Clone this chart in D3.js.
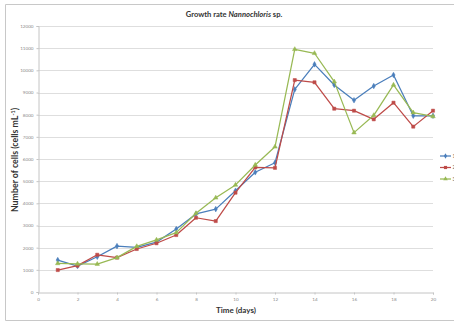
<!DOCTYPE html>
<html>
<head>
<meta charset="utf-8">
<script src="https://cdn.jsdelivr.net/npm/d3@7"></script>
<style>
  html, body { margin: 0; padding: 0; background: #fff; }
  svg { display: block; }
  text { font-family: Lato, "Open Sans", "Liberation Sans", sans-serif; }
</style>
</head>
<body>
<svg id="chart" width="454" height="321"></svg>
<script>
// Culture days
const days = [1, 2, 3, 4, 5, 6, 7, 8, 9, 10, 11, 12, 13, 14, 15, 16, 17, 18, 19, 20];

// Cell counts (cells mL-1) for the three replicate cultures
const replicate1 = [1440, 1170, 1590, 2070, 2010, 2250, 2840, 3520, 3740, 4570, 5400, 5830, 9140, 10270, 9340, 8650, 9290, 9790, 7950, 7950];
const replicate2 = [990, 1190, 1680, 1550, 1940, 2200, 2570, 3350, 3200, 4480, 5620, 5600, 9560, 9460, 8270, 8180, 7790, 8540, 7460, 8180];
const replicate3 = [1290, 1270, 1260, 1550, 2060, 2350, 2680, 3550, 4250, 4830, 5730, 6550, 10950, 10770, 9490, 7190, 7970, 9340, 8090, 7920];

const seriesNames = ["1", "2", "3"];
const seriesColors = ["#4A7EBB", "#BE4B48", "#98B954"];
const seriesShapes = [d3.symbolDiamond, d3.symbolSquare, d3.symbolTriangle];

const xTicks = [0, 2, 4, 6, 8, 10, 12, 14, 16, 18, 20];
const yTicks = [0, 1000, 2000, 3000, 4000, 5000, 6000, 7000, 8000, 9000, 10000, 11000, 12000];

const series = [replicate1, replicate2, replicate3].map((vals, i) => ({
  name: seriesNames[i],
  color: seriesColors[i],
  shape: seriesShapes[i],
  points: days.map((d, j) => ({ day: d, value: vals[j] }))
}));

const markerSize = shape => (shape === d3.symbolSquare ? 10 : 9);

const svg = d3.select("#chart");

// chart frame
svg.append("path")
  .attr("d", "M454,4.5 H5.5 V320.5 H454")
  .attr("fill", "none")
  .attr("stroke", "#c8c8c8")
  .attr("stroke-width", 1);

const plot = { left: 38, right: 433, top: 26, bottom: 292 };

const x = d3.scaleLinear().domain([0, 20]).range([plot.left, plot.right]);
const y = d3.scaleLinear().domain([0, 12000]).range([plot.bottom, plot.top]);

// horizontal gridlines
svg.append("g")
  .selectAll("line")
  .data(yTicks.filter(t => t > 0))
  .join("line")
  .attr("x1", plot.left).attr("x2", plot.right)
  .attr("y1", d => Math.round(y(d)) + 0.5).attr("y2", d => Math.round(y(d)) + 0.5)
  .attr("stroke", "#dedede").attr("stroke-width", 1);

// axes
const xAxis = svg.append("g")
  .attr("transform", `translate(0,${plot.bottom + 0.5})`)
  .call(d3.axisBottom(x).tickValues(xTicks).tickSize(2).tickPadding(3));
const yAxis = svg.append("g")
  .attr("transform", `translate(${plot.left + 0.5},0)`)
  .call(d3.axisLeft(y).tickValues(yTicks).tickSize(2).tickPadding(3).tickFormat(d3.format("d")));

[xAxis, yAxis].forEach(g => {
  g.select(".domain").attr("stroke", "#c4c4c4");
  g.selectAll(".tick line").attr("stroke", "#c4c4c4");
  g.selectAll(".tick text")
    .attr("fill", "#8a8a8a")
    .style("font-size", "4.6px")
    .style("font-family", "Lato, 'Open Sans', sans-serif");
});

// lines and markers
const line = d3.line().x(d => x(d.day)).y(d => y(d.value));

series.forEach(s => {
  svg.append("path")
    .datum(s.points)
    .attr("d", line)
    .attr("fill", "none")
    .attr("stroke", s.color)
    .attr("stroke-width", 1.25)
    .attr("stroke-linejoin", "round");

  svg.append("g")
    .selectAll("path")
    .data(s.points)
    .join("path")
    .attr("transform", d => `translate(${x(d.day)},${y(d.value)})`)
    .attr("d", d3.symbol().type(s.shape).size(markerSize(s.shape)))
    .attr("fill", s.color)
    .attr("stroke", s.color)
    .attr("stroke-width", 0.5);
});

// title
const title = svg.append("text")
  .attr("x", 234).attr("y", 17)
  .attr("text-anchor", "middle")
  .style("font-size", "7.6px")
  .style("font-weight", "bold")
  .attr("fill", "#333");
title.append("tspan").text("Growth rate ");
title.append("tspan").style("font-style", "italic").text("Nannochloris");
title.append("tspan").text(" sp.");

// axis titles
svg.append("text")
  .attr("x", 236).attr("y", 313)
  .attr("text-anchor", "middle")
  .style("font-size", "8px")
  .style("font-weight", "bold")
  .attr("fill", "#333")
  .text("Time (days)");

const yTitle = svg.append("text")
  .attr("transform", "translate(18,160) rotate(-90)")
  .attr("text-anchor", "middle")
  .style("font-size", "8.8px")
  .style("font-weight", "bold")
  .attr("fill", "#333");
yTitle.append("tspan").text("Number of cells (cells mL");
yTitle.append("tspan").attr("baseline-shift", "super").style("font-size", "5.5px").text("-1");
yTitle.append("tspan").text(")");

// legend
const legend = svg.append("g")
  .selectAll("g")
  .data(series)
  .join("g")
  .attr("transform", (d, i) => `translate(440,${156 + i * 11.5})`);
legend.append("line")
  .attr("x1", 0).attr("x2", 11)
  .attr("stroke", d => d.color).attr("stroke-width", 1.25);
legend.append("path")
  .attr("transform", "translate(5.5,0)")
  .attr("d", d => d3.symbol().type(d.shape).size(markerSize(d.shape))())
  .attr("fill", d => d.color);
legend.append("text")
  .attr("x", 12.5).attr("y", 1.8)
  .style("font-size", "5px")
  .attr("fill", "#666")
  .text(d => d.name);
</script>
</body>
</html>
